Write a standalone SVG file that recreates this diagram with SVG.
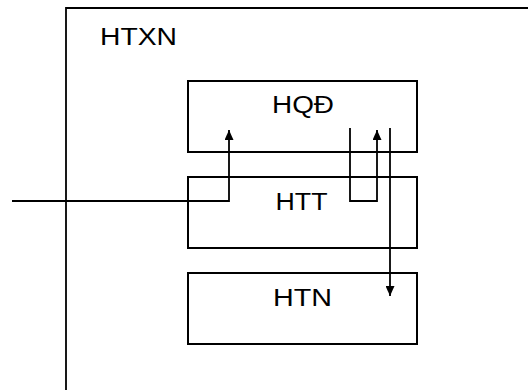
<svg xmlns="http://www.w3.org/2000/svg" width="528" height="390" viewBox="0 0 528 390">
<style>
.box{fill:#fff;stroke:#000;stroke-width:2}
.ln{fill:none;stroke:#000;stroke-width:1.8}
.t{font-family:"Liberation Sans",Arial,sans-serif;font-size:23px;fill:#000;text-anchor:middle}
</style>
<defs>
<marker id="ah" viewBox="0 0 10 9" refX="10" refY="4.5" markerWidth="10" markerHeight="9" markerUnits="userSpaceOnUse" orient="auto">
<path d="M0,0 L10,4.5 L0,9 z" fill="#000"/>
</marker>
</defs>
<rect width="528" height="390" fill="#fff"/>
<g id="htxn">
<path class="ln" d="M66,390 V8 H528"/>
<text class="t" x="138.5" y="45" textLength="77" lengthAdjust="spacingAndGlyphs">HTXN</text>
</g>
<g id="hqd">
<rect class="box" x="188" y="81" width="229" height="71"/>
<text class="t" x="303" y="113" textLength="62" lengthAdjust="spacingAndGlyphs">HQĐ</text>
</g>
<g id="htt">
<rect class="box" x="188" y="177" width="229" height="71"/>
<text class="t" x="301.5" y="210" textLength="52" lengthAdjust="spacingAndGlyphs">HTT</text>
</g>
<g id="htn">
<rect class="box" x="188" y="273" width="229" height="71"/>
<text class="t" x="302.5" y="306" textLength="59" lengthAdjust="spacingAndGlyphs">HTN</text>
</g>
<g id="connectors">
<path class="ln" d="M12,201 H229 V130" marker-end="url(#ah)"/>
<path class="ln" d="M350,128 V201 H377 V130" marker-end="url(#ah)"/>
<path class="ln" d="M390,128 V296" marker-end="url(#ah)"/>
</g>
</svg>
